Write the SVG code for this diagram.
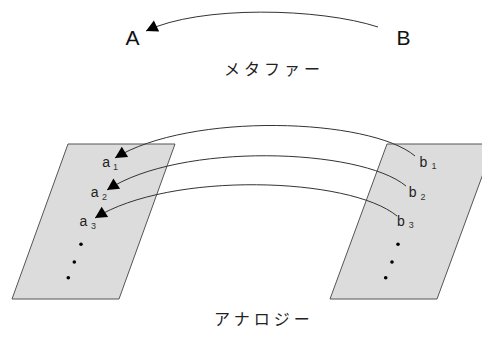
<svg xmlns="http://www.w3.org/2000/svg" width="482" height="338" viewBox="0 0 482 338">
<style>
.plane{fill:#dcdcdc;stroke:#555;stroke-width:1}
.dot{fill:#000}
.big{font-family:"Liberation Sans",Arial,sans-serif;font-size:21px;fill:#111}
.lbl{font-family:"Liberation Sans",Arial,sans-serif;font-size:14px;fill:#222}
.sub{font-family:"Liberation Sans",Arial,sans-serif;font-size:9px;fill:#333}
.jp{font-family:"Noto Sans CJK JP","Noto Sans",sans-serif;font-size:16px;letter-spacing:4px;fill:#222}
.arc{fill:none;stroke:#333;stroke-width:1}
</style>
<defs>
<marker id="ah" markerUnits="userSpaceOnUse" markerWidth="14" markerHeight="14" viewBox="-11 -6 12 12" refX="0" refY="0" orient="auto">
<path d="M0,0 L-10,-5.2 L-10,5.2 Z" fill="#000"/>
</marker>
</defs>
<g id="plane-left">
<polygon class="plane" points="68,144 175,144 119,299 12,299"/>
<circle class="dot" cx="81" cy="244.3" r="1.8"/>
<circle class="dot" cx="74.3" cy="262" r="1.8"/>
<circle class="dot" cx="68.3" cy="277.7" r="1.8"/>
</g>
<g id="plane-right">
<polygon class="plane" points="387,144 494,144 437,299 330,299"/>
<circle class="dot" cx="398" cy="244.3" r="1.8"/>
<circle class="dot" cx="392" cy="262" r="1.8"/>
<circle class="dot" cx="385.7" cy="277.7" r="1.8"/>
</g>
<g id="node-A"><text class="big" x="125.5" y="45">A</text></g>
<g id="node-B"><text class="big" x="396.5" y="45">B</text></g>
<g id="label-metaphor"><text class="jp" x="224" y="75">メタファー</text></g>
<g id="node-a1"><text class="lbl" x="102.2" y="166.7">a</text><text class="sub" x="113" y="169.5">1</text></g>
<g id="node-a2"><text class="lbl" x="90.8" y="196.7">a</text><text class="sub" x="102" y="199.5">2</text></g>
<g id="node-a3"><text class="lbl" x="79.5" y="226">a</text><text class="sub" x="91" y="228.8">3</text></g>
<g id="node-b1"><text class="lbl" x="419.5" y="166.7">b</text><text class="sub" x="431.5" y="169">1</text></g>
<g id="node-b2"><text class="lbl" x="408.8" y="197">b</text><text class="sub" x="420.5" y="199.5">2</text></g>
<g id="node-b3"><text class="lbl" x="397" y="225.7">b</text><text class="sub" x="408.7" y="228">3</text></g>
<g id="label-analogy"><text class="jp" x="214" y="325">アナロジー</text></g>
<g id="connectors">
<path class="arc" marker-end="url(#ah)" d="M378,27 C320,8 200,5 146,31"/>
<path class="arc" marker-end="url(#ah)" d="M415,156 C370,118 190,112 115,158"/>
<path class="arc" marker-end="url(#ah)" d="M406,186 C360,148 180,142 107,190"/>
<path class="arc" marker-end="url(#ah)" d="M397,216 C350,177 170,171 95,218"/>
</g>
</svg>
